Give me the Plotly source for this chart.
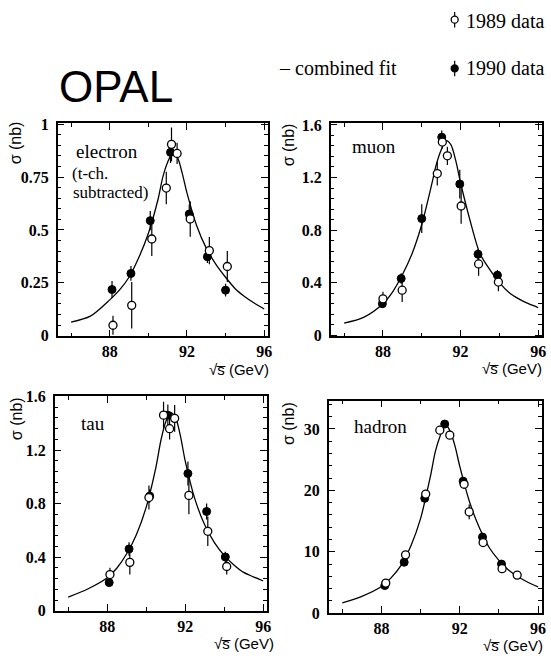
import plotly.graph_objects as go

W, H = 551, 668

# ---------------- data ----------------
# fit curve sample energies
fit_E = [86, 87, 88, 88.5, 89, 89.5, 90, 90.5, 90.75, 91, 91.25, 91.5, 91.75,
         92, 92.5, 93, 93.5, 94, 94.5, 95, 95.5, 96]

# electron
el_fit = [0.064, 0.092, 0.169, 0.215, 0.276, 0.368, 0.483, 0.644, 0.75, 0.82, 0.862, 0.844, 0.77,
          0.675, 0.521, 0.414, 0.337, 0.276, 0.222, 0.184, 0.153, 0.126]
el90_E = [88.12, 89.10, 90.10, 91.15, 92.12, 93.06, 94.00]
el90_y = [0.218, 0.294, 0.544, 0.867, 0.575, 0.373, 0.215]
el90_e = [0.04, 0.035, 0.045, 0.05, 0.045, 0.03, 0.03]
el89_E = [88.17, 89.14, 90.18, 90.93, 91.20, 91.49, 92.17, 93.16, 94.09]
el89_y = [0.049, 0.143, 0.457, 0.698, 0.905, 0.862, 0.552, 0.402, 0.327]
el89_e = [0.045, 0.11, 0.08, 0.077, 0.08, 0.05, 0.084, 0.065, 0.073]

# muon
mu_fit = [0.091, 0.135, 0.239, 0.33, 0.46, 0.62, 0.842, 1.14, 1.30, 1.41, 1.48, 1.45, 1.33,
          1.16, 0.867, 0.62, 0.50, 0.40, 0.325, 0.276, 0.239, 0.21]
mu90_E = [87.97, 88.94, 90.00, 91.03, 91.96, 92.90, 93.90]
mu90_y = [0.239, 0.431, 0.887, 1.507, 1.15, 0.616, 0.456]
mu90_e = [0.03, 0.04, 0.11, 0.05, 0.11, 0.04, 0.04]
mu89_E = [88.00, 88.99, 90.80, 91.06, 91.32, 92.03, 92.93, 93.95]
mu89_y = [0.276, 0.342, 1.23, 1.47, 1.365, 0.983, 0.542, 0.404]
mu89_e = [0.055, 0.09, 0.09, 0.05, 0.07, 0.135, 0.09, 0.07]

# tau
ta_fit = [0.103, 0.163, 0.247, 0.32, 0.426, 0.57, 0.774, 1.073, 1.27, 1.41, 1.48, 1.445, 1.31,
          1.12, 0.834, 0.642, 0.51, 0.414, 0.343, 0.287, 0.254, 0.223]
ta90_E = [88.10, 89.12, 90.18, 91.11, 92.14, 93.10, 94.06]
ta90_y = [0.211, 0.462, 0.857, 1.461, 1.025, 0.742, 0.402]
ta90_e = [0.03, 0.05, 0.05, 0.08, 0.09, 0.06, 0.04]
ta89_E = [88.14, 89.16, 90.14, 90.89, 91.20, 91.46, 92.19, 93.16, 94.13]
ta89_y = [0.271, 0.362, 0.846, 1.461, 1.36, 1.437, 0.862, 0.594, 0.331]
ta89_e = [0.05, 0.09, 0.09, 0.1, 0.08, 0.1, 0.14, 0.11, 0.06]

# hadron
ha_fit = [1.7, 2.75, 4.34, 5.8, 7.8, 10.95, 15.45, 22.3, 26.3, 28.9, 30.8, 29.7, 27.3,
          23.9, 18.1, 13.9, 10.7, 8.6, 7.0, 5.9, 5.0, 4.3]
ha90_E = [88.17, 89.16, 90.21, 91.23, 92.17, 93.16, 94.13]
ha90_y = [4.5, 8.3, 18.7, 30.8, 21.5, 12.4, 8.0]
ha90_e = [0.3, 0.4, 0.5, 0.6, 0.5, 0.4, 0.4]
ha89_E = [88.22, 89.23, 90.26, 90.98, 91.49, 92.22, 92.48, 93.19, 94.16, 94.93]
ha89_y = [4.9, 9.5, 19.4, 29.8, 29.0, 21.0, 16.5, 11.5, 7.25, 6.2]
ha89_e = [0.3, 0.4, 0.5, 0.5, 0.5, 0.5, 1.2, 0.4, 0.3, 0.3]

x_ticks = [88, 92, 96]
y_ticks = {
    "electron": [0, 0.25, 0.5, 0.75, 1],
    "muon": [0, 0.4, 0.8, 1.2, 1.6],
    "tau": [0, 0.4, 0.8, 1.2, 1.6],
    "hadron": [0, 10, 20, 30],
}

# ---------------- layout helpers ----------------
def px_x(x):
    return x / W

def px_y(y):
    return 1 - y / H

panels = [
    # name, frame (left, right, top, bottom) in px, y range, minor y step, data
    ("electron", (58, 270, 118, 337), [-0.004, 1.006], 0.05,
     el_fit, (el90_E, el90_y, el90_e), (el89_E, el89_y, el89_e)),
    ("muon", (333, 546, 118, 337), [-0.01, 1.615], 0.08,
     mu_fit, (mu90_E, mu90_y, mu90_e), (mu89_E, mu89_y, mu89_e)),
    ("tau", (55, 269, 398, 619), [-0.003, 1.605], 0.08,
     ta_fit, (ta90_E, ta90_y, ta90_e), (ta89_E, ta89_y, ta89_e)),
    ("hadron", (331, 546, 403, 621), [0, 34.6], 2,
     ha_fit, (ha90_E, ha90_y, ha90_e), (ha89_E, ha89_y, ha89_e)),
]

TICKFONT = dict(family="Liberation Serif", size=16, color="black", weight="bold")

fig = go.Figure()
layout = dict(
    width=W, height=H, margin=dict(l=0, r=0, t=0, b=0),
    paper_bgcolor="white", plot_bgcolor="rgba(0,0,0,0)", showlegend=False,
)

for i, (name, (l, r, t, b), yr, ymin, fit, d90, d89) in enumerate(panels):
    n = "" if i == 0 else str(i + 1)
    xa, ya = "x" + n, "y" + n
    layout["xaxis" + n] = dict(
        domain=[px_x(l), px_x(r)], range=[85.3, 96.2], anchor=ya,
        tickvals=x_ticks, ticks="inside", ticklen=7, tickwidth=1.2, tickcolor="black",
        showline=True, linecolor="black", linewidth=1.5, mirror="allticks",
        showgrid=False, zeroline=False, tickfont=TICKFONT, ticklabelstandoff=0,
        minor=dict(dtick=2, tick0=86, ticks="inside", ticklen=4, tickwidth=1, tickcolor="black", showgrid=False),
    )
    layout["yaxis" + n] = dict(
        domain=[px_y(b), px_y(t)], range=yr, anchor=xa,
        tickvals=y_ticks[name], ticks="inside", ticklen=7, tickwidth=1.2, tickcolor="black",
        showline=True, linecolor="black", linewidth=1.5, mirror="allticks",
        showgrid=False, zeroline=False, tickfont=TICKFONT, ticklabelstandoff=4,
        minor=dict(dtick=ymin, tick0=0, ticks="inside", ticklen=4, tickwidth=1, tickcolor="black", showgrid=False),
    )
    fig.add_trace(go.Scatter(x=fit_E, y=fit, mode="lines", xaxis=xa, yaxis=ya,
                             line=dict(color="black", width=1.3, shape="spline", smoothing=0.8),
                             hoverinfo="skip"))
    fig.add_trace(go.Scatter(x=d90[0], y=d90[1], mode="markers", xaxis=xa, yaxis=ya,
                             marker=dict(symbol="circle", size=8, color="black",
                                         line=dict(color="black", width=1)),
                             error_y=dict(type="data", array=d90[2], visible=True,
                                          color="black", thickness=1.2, width=0)))
    fig.add_trace(go.Scatter(x=d89[0], y=d89[1], mode="markers", xaxis=xa, yaxis=ya,
                             marker=dict(symbol="circle", size=8, color="white",
                                         line=dict(color="black", width=1.3)),
                             error_y=dict(type="data", array=d89[2], visible=True,
                                          color="black", thickness=1.2, width=0)))

# overlay axis in pixel units for legend keys
layout["xaxis5"] = dict(domain=[0, 1], range=[0, W], visible=False, anchor="y5", fixedrange=True)
layout["yaxis5"] = dict(domain=[0, 1], range=[H, 0], visible=False, anchor="x5", fixedrange=True)

legend_keys = [("1989 data", "white", 458, 12), ("1990 data", "black", 458, 62)]
for label, fill, kx, ky in legend_keys:
    fig.add_trace(go.Scatter(x=[kx], y=[ky], mode="markers", xaxis="x5", yaxis="y5",
                             marker=dict(symbol="circle", size=7, color=fill,
                                         line=dict(color="black", width=1.3)),
                             error_y=dict(type="constant", value=8, visible=True,
                                          color="black", thickness=1.2, width=0),
                             hoverinfo="skip"))

fig.update_layout(**layout)

ann = []
def text(x, y, s, size, family="Liberation Serif", xanchor="left", angle=0, weight="normal"):
    ann.append(dict(x=px_x(x), y=px_y(y), xref="paper", yref="paper", text=s,
                    showarrow=False, xanchor=xanchor, yanchor="middle", textangle=angle,
                    font=dict(family=family, size=size, color="black", weight=weight)))

text(117, 81, "OPAL", 44, family="Liberation Sans", xanchor="center")
text(279, 62, "– combined fit", 20)
text(467, 13, "1989 data", 20)
text(467, 62, "1990 data", 20)

text(75, 147, "electron", 19)
text(71, 170, "(t-ch.", 17)
text(72, 189, "subtracted)", 17)
text(353, 142, "muon", 19)
text(80, 426, "tau", 19)
text(355, 429, "hadron", 19)

for cx, cy in [(16, 138), (291, 140), (16, 421), (290, 426)]:
    text(cx, cy, "σ (nb)", 16, family="Liberation Sans", xanchor="center", angle=-90)

for rx, cy in [(273, 371), (548, 370), (278, 652), (549, 654)]:
    text(rx, cy, "√s\u0305 (GeV)", 15, family="Liberation Sans", xanchor="right")

fig.update_layout(annotations=ann)
fig.write_html("out.html")
